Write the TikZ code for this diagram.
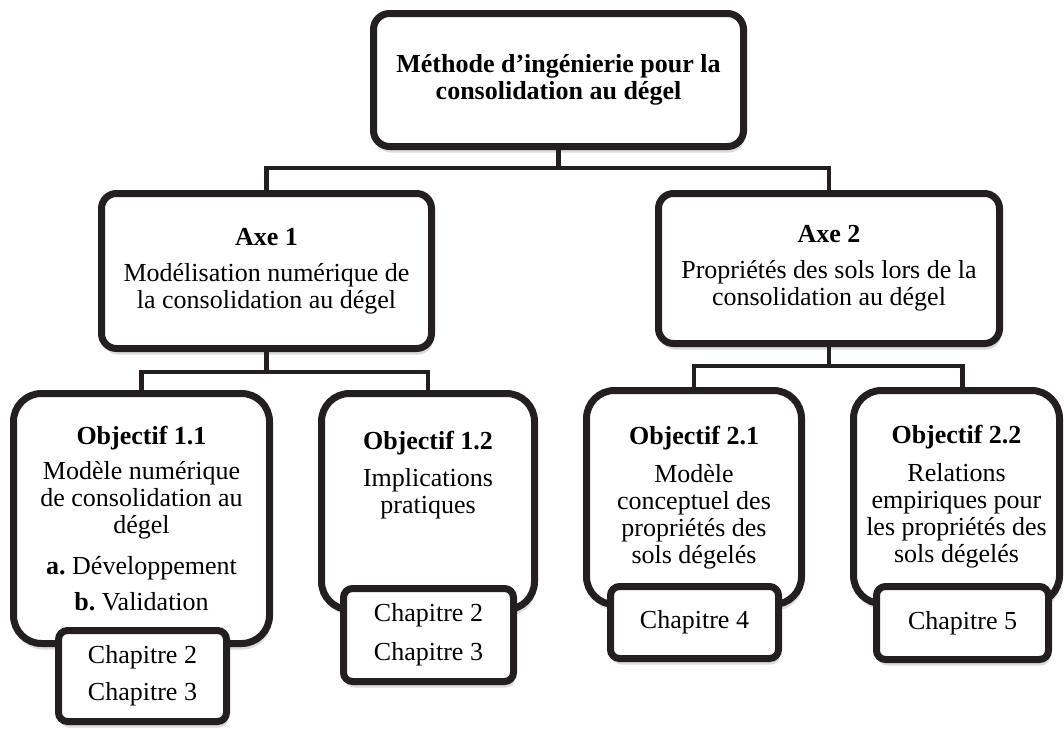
\documentclass[tikz,border=0pt]{standalone}
\usepackage{fontspec}
\setmainfont{Liberation Serif}
\usetikzlibrary{shadows}
\definecolor{ink}{HTML}{231F20}
\newcommand{\bodyfs}{\fontsize{26}{27}\selectfont\frenchspacing}
\tikzset{
  boxbase/.style={draw=ink, line width=7pt, fill=white, align=center, inner sep=0pt,
    font=\bodyfs, text=black,
    drop shadow={shadow xshift=1.5pt, shadow yshift=-6pt, opacity=0.14, fill=black}},
  topbox/.style={boxbase, rounded corners=16pt},
  axebox/.style={boxbase, rounded corners=15pt},
  objbox/.style={boxbase, rounded corners=28pt},
  chapbox/.style={boxbase, rounded corners=9pt},
  txt/.style={align=center, inner sep=0pt, font=\bodyfs, text=black},
  conn/.style={draw=ink, line width=4.5pt}
}
\begin{document}
\begin{tikzpicture}[x=1pt,y=-1pt]
\useasboundingbox (0,0) rectangle (1064,728);
% top
\node[topbox, minimum width=370pt, minimum height=133pt] (top) at (558.5,80)
  {\textbf{Méthode d’ingénierie pour la}\\\textbf{consolidation au dégel}};
% axes
\node[axebox, minimum width=330pt, minimum height=155pt] (a1) at (266.5,271)
  {\textbf{Axe 1}\\[9pt]Modélisation numérique de\\la consolidation au dégel};
\node[axebox, minimum width=341pt, minimum height=150pt] (a2) at (829,268.5)
  {\textbf{Axe 2}\\[9pt]Propriétés des sols lors de la\\consolidation au dégel};
% objectives
\node[objbox, minimum width=256pt, minimum height=250pt] (o11) at (141.5,518.5)
  {\textbf{Objectif 1.1}\\[8pt]Modèle numérique\\de consolidation au\\dégel\\[14pt]\textbf{a.} Développement\\[9pt]\textbf{b.} Validation};
\node[chapbox, minimum width=168pt, minimum height=91pt] (c11) at (142.5,676)
  {Chapitre 2\\[10pt]Chapitre 3};
\node[objbox, minimum width=213pt, minimum height=216pt] (o12) at (428,501.5) {};
\node[txt] (t12) at (428,475.5) {\textbf{Objectif 1.2}\\[10pt]Implications\\pratiques};
\node[chapbox, minimum width=170pt, minimum height=93pt] (c12) at (428.5,635)
  {Chapitre 2\\[12pt]Chapitre 3};
\node[objbox, minimum width=215pt, minimum height=214pt] (o21) at (694,497.5)
  {\textbf{Objectif 2.1}\\[11pt]Modèle\\conceptuel des\\propriétés des\\sols dégelés};
\node[chapbox, minimum width=168pt, minimum height=72pt] (c21) at (694.5,622.5)
  {Chapitre 4};
\node[objbox, minimum width=206pt, minimum height=213pt] (o22) at (956.5,497)
  {\textbf{Objectif 2.2}\\[11pt]Relations\\empiriques pour\\les propriétés des\\sols dégelés};
\node[chapbox, minimum width=172pt, minimum height=73pt] (c22) at (962.5,623)
  {Chapitre 5};
% connectors
\coordinate (b0) at (0,168);
\coordinate (b1) at (0,372);
\coordinate (b2) at (0,366);
\draw[conn] (top.south) -- (top.south |- b0);
\draw[conn] (a1.north) -- (a1.north |- b0) -- (a2.north |- b0) -- (a2.north);
\draw[conn] (a1.south) -- (a1.south |- b1);
\draw[conn] (o11.north) -- (o11.north |- b1) -- (o12.north |- b1) -- (o12.north);
\draw[conn] (a2.south) -- (a2.south |- b2);
\draw[conn] (o21.north) -- (o21.north |- b2) -- (c22.center |- b2) -- (c22.center |- o22.north);
\end{tikzpicture}
\end{document}
